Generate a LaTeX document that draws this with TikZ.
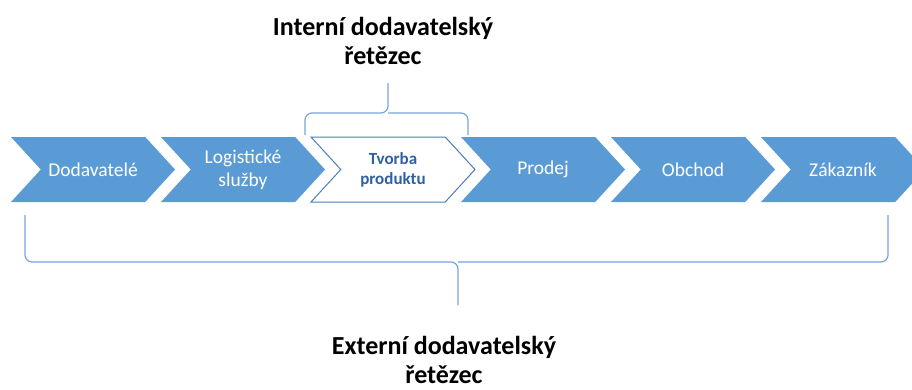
\documentclass[tikz,border=0pt]{standalone}
\usepackage{fontspec}
\setmainfont{Carlito}
\usetikzlibrary{shapes.symbols,positioning}
\definecolor{chevblue}{RGB}{91,155,213}
\definecolor{edgeblue}{RGB}{74,126,187}
\definecolor{textblue}{RGB}{47,95,165}
\definecolor{braceblue}{RGB}{120,165,220}
\tikzset{
	node distance=150pt,
	chev/.style={signal, signal from=west, signal to=east, signal pointer angle=95,
		minimum width=164pt, minimum height=65pt, inner sep=0pt,
		fill=chevblue, draw=none, text=white, align=center,
		font=\fontsize{19.5}{23}\selectfont},
	core/.style={chev, fill=white, draw=edgeblue, line width=1pt, text=textblue,
		font=\bfseries\fontsize{17}{20}\selectfont},
	brace/.style={draw=braceblue, line width=1.2pt, rounded corners=7pt},
	title/.style={align=center, font=\bfseries\fontsize{26}{29}\selectfont}
}

\begin{document}
\begin{tikzpicture}[x=1pt,y=-1pt]
	\useasboundingbox (0,0) rectangle (912,389);
	\node[chev] (dod) at (93,169.5) {Dodavatelé};
	\node[chev, right of = dod] (log) {Logistické\\služby};
	\node[core, right of = log] (tvor) {Tvorba\\produktu};
	\node[chev, right of = tvor] (prod) {Prodej};
	\node[chev, right of = prod] (obch) {Obchod};
	\node[chev, right of = obch] (zak) {Zákazník};

	% internal chain
	\coordinate (intL) at (305,135);
	\coordinate (intR) at (468,135);
	\coordinate (intM) at (388,113);
	\coordinate (intT) at (388,83);
	\draw[brace] (intL) |- (intM) -- (intT);
	\draw[brace] (intR) |- (intM);
	\node[title] (intlbl) at (383,41) {Interní dodavatelský\\řetězec};

	% external chain
	\coordinate (extL) at (25,215);
	\coordinate (extR) at (888,215);
	\coordinate (extM) at (458,262);
	\coordinate (extB) at (458,305);
	\draw[brace] (extL) |- (extM) -- (extB);
	\draw[brace] (extR) |- (extM);
	\node[title] (extlbl) at (444,360) {Externí dodavatelský\\řetězec};
\end{tikzpicture}
\end{document}
